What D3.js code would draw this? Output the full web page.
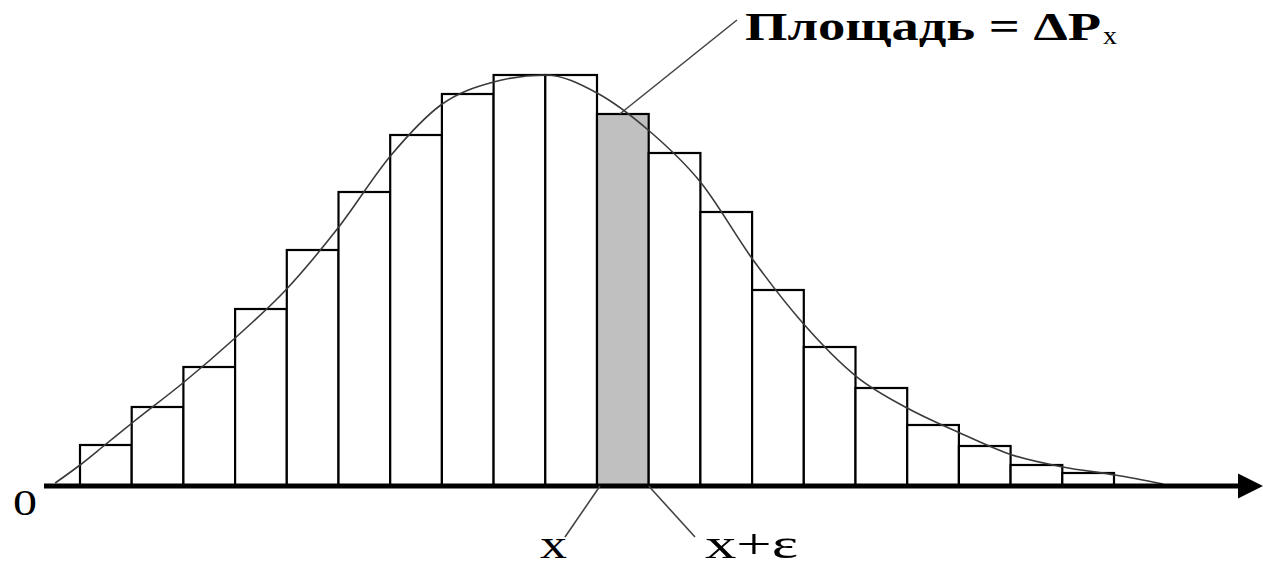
<!DOCTYPE html>
<html>
<head>
<meta charset="utf-8">
<script src="https://cdn.jsdelivr.net/npm/d3@7"></script>
<style>
  html, body { margin: 0; padding: 0; background: #fff; }
  svg { display: block; }
  .lbl { font-family: "Liberation Serif", "Times New Roman", Tinos, serif; fill: #000; }
</style>
</head>
<body>
<svg id="chart" width="1263" height="567"></svg>
<script>
// ---- data ----
// bar i spans [i, i+1] on the x axis
const barValues = [41, 79, 119, 177, 236, 294, 351, 392, 411, 411,
                   372, 333, 274, 196, 139, 98, 61, 40, 21, 13];
const highlightIndex = 10;               // the shaded strip between x and x+ε
const curveX = [-0.48, 0, 0.48, 1.03, 1.99, 3.0, 3.98, 4.99, 6.02, 6.98, 8.0, 9.0,
                10.0, 10.99, 12.0, 13.02, 13.98, 15.03, 16.0, 17.02, 18.03, 19.01, 20.02, 20.95];
const curveY = [3, 21, 41, 64, 103, 148, 196, 258, 331, 381, 404, 411,
                393, 356, 304, 226, 163, 109, 78, 53, 31, 19, 11, 2];
const areaLabel = 'Площадь = ΔP';
const areaSub = 'x';
const leftLabel = 'x';
const rightLabel = 'x+ε';
const originLabel = '0';

const svg = d3.select('#chart');

const x = d3.scaleLinear().domain([0, barValues.length]).range([80, 1114]);
const y = d3.scaleLinear().domain([0, 411]).range([486, 75]);
const y0 = y(0);

// bars
svg.append('g').selectAll('rect')
  .data(barValues)
  .join('rect')
    .attr('x', (d, i) => x(i))
    .attr('y', d => y(d))
    .attr('width', (d, i) => x(i + 1) - x(i))
    .attr('height', d => y0 - y(d))
    .attr('fill', (d, i) => i === highlightIndex ? '#c0c0c0' : '#fff')
    .attr('stroke', '#000')
    .attr('stroke-width', 2.2);

// density curve
const pts = curveX.map((v, i) => [v, curveY[i]]);
svg.append('path')
  .datum(pts)
  .attr('fill', 'none')
  .attr('stroke', '#3a3a3a')
  .attr('stroke-width', 1.6)
  .attr('d', d3.line().x(d => x(d[0])).y(d => y(d[1])).curve(d3.curveMonotoneX));

// axis with arrow
svg.append('line')
  .attr('x1', 44).attr('x2', 1242)
  .attr('y1', y0).attr('y2', y0)
  .attr('stroke', '#000').attr('stroke-width', 5);
svg.append('path')
  .attr('d', `M1238,${y0 - 12.5}L1263,${y0}L1238,${y0 + 12.5}Z`)
  .attr('fill', '#000');

// leader lines
const hv = barValues[highlightIndex];
svg.append('line')
  .attr('x1', x(highlightIndex + 0.44)).attr('y1', y(hv))
  .attr('x2', 737).attr('y2', 20)
  .attr('stroke', '#444').attr('stroke-width', 1.6);
svg.append('line')
  .attr('x1', x(highlightIndex) + 3).attr('y1', y0)
  .attr('x2', 565).attr('y2', 537)
  .attr('stroke', '#444').attr('stroke-width', 1.6);
svg.append('line')
  .attr('x1', x(highlightIndex + 1)).attr('y1', y0)
  .attr('x2', 695).attr('y2', 537)
  .attr('stroke', '#444').attr('stroke-width', 1.6);

// texts (glyphs are stretched wide in the source, hence textLength)
svg.append('text').attr('class', 'lbl')
  .attr('x', 745).attr('y', 40)
  .attr('font-size', 40).attr('font-weight', 'bold')
  .attr('textLength', 356).attr('lengthAdjust', 'spacingAndGlyphs')
  .text(areaLabel);
svg.append('text').attr('class', 'lbl')
  .attr('x', 1103).attr('y', 44)
  .attr('font-size', 25)
  .attr('textLength', 14).attr('lengthAdjust', 'spacingAndGlyphs')
  .text(areaSub);

svg.append('text').attr('class', 'lbl')
  .attr('x', 540).attr('y', 558)
  .attr('font-size', 42)
  .attr('textLength', 27).attr('lengthAdjust', 'spacingAndGlyphs')
  .text(leftLabel);
svg.append('text').attr('class', 'lbl')
  .attr('x', 705).attr('y', 558)
  .attr('font-size', 42)
  .attr('textLength', 93).attr('lengthAdjust', 'spacingAndGlyphs')
  .text(rightLabel);

svg.append('text').attr('class', 'lbl')
  .attr('x', 13).attr('y', 515)
  .attr('font-size', 35)
  .attr('textLength', 24).attr('lengthAdjust', 'spacingAndGlyphs')
  .text(originLabel);
</script>
</body>
</html>
